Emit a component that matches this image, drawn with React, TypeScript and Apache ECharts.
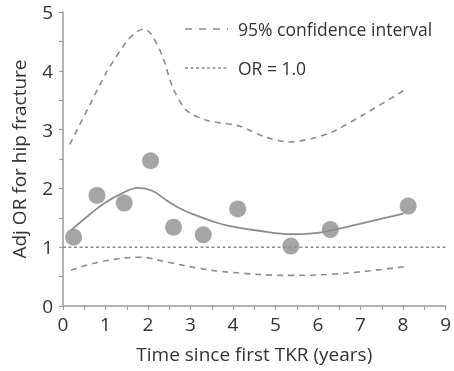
import React, { useEffect, useRef } from "react";
import * as echarts from "echarts";

const pointsX = [0.25, 0.8, 1.44, 2.06, 2.6, 3.3, 4.11, 5.36, 6.29, 8.12];
const pointsY = [1.17, 1.88, 1.75, 2.47, 1.34, 1.21, 1.65, 1.02, 1.3, 1.7];

const fitX = [0.19, 0.6, 1.0, 1.4, 1.76, 2.1, 2.43, 2.8, 3.21, 3.6, 3.99, 4.6, 5.36, 5.94, 6.33, 7.11, 8.01];
const fitY = [1.29, 1.54, 1.76, 1.92, 2.01, 1.96, 1.8, 1.64, 1.52, 1.42, 1.35, 1.28, 1.22, 1.24, 1.29, 1.42, 1.57];

const upperX = [0.16, 0.63, 1.02, 1.49, 1.73, 1.9, 2.08, 2.35, 2.58, 2.9, 3.37, 4.15, 4.77, 5.32, 5.86, 6.33, 7.11, 8.05];
const upperY = [2.75, 3.42, 3.97, 4.49, 4.66, 4.71, 4.62, 4.23, 3.72, 3.33, 3.16, 3.06, 2.87, 2.79, 2.85, 2.96, 3.27, 3.68];

const lowerX = [0.19, 0.87, 1.8, 2.43, 3.21, 3.99, 5.32, 6.33, 7.11, 8.05];
const lowerY = [0.61, 0.75, 0.83, 0.75, 0.64, 0.57, 0.52, 0.54, 0.59, 0.67];

const refX = [0, 9.15];
const refY = [1, 1];

const legendLabels = ["95% confidence interval", "OR = 1.0"];

const zip = (xs: number[], ys: number[]) => xs.map((x, i) => [x, ys[i]]);

const FONT = "'Open Sans', 'Noto Sans', sans-serif";
const TEXT = "#333333";
const AXIS = "#9a9a9a";
const LINE = "#8c8c8c";

export default function App() {
  const ref = useRef<HTMLDivElement>(null);
  useEffect(() => {
    if (!ref.current) return;
    document.body.style.margin = "0";
    const chart = echarts.init(ref.current, undefined, { renderer: "svg" });
    chart.setOption({
      animation: false,
      grid: { left: 63, right: 7, top: 12, bottom: 65, containLabel: false },
      xAxis: {
        type: "value",
        min: 0,
        max: 9,
        interval: 0.5,
        offset: 3,
        name: "Time since first TKR (years)",
        nameLocation: "middle",
        nameGap: 35,
        nameTextStyle: { fontFamily: FONT, fontSize: 19, color: TEXT },
        axisLine: { show: true, lineStyle: { color: AXIS, width: 1.5 } },
        axisTick: { show: true, length: 4, lineStyle: { color: AXIS, width: 1.2 } },
        axisLabel: {
          margin: 5,
          fontFamily: FONT,
          fontSize: 19,
          color: TEXT,
          showMinLabel: true,
          showMaxLabel: true,
          hideOverlap: false,
          formatter: (v: number) => (Number.isInteger(v) ? String(v) : ""),
        },
        splitLine: { show: false },
      },
      yAxis: {
        type: "value",
        min: 0,
        max: 5,
        interval: 0.5,
        offset: 1,
        name: "Adj OR for hip fracture",
        nameLocation: "middle",
        nameGap: 34,
        nameTextStyle: { fontFamily: FONT, fontSize: 19, color: TEXT },
        axisLine: { show: true, lineStyle: { color: AXIS, width: 1.5 } },
        axisTick: { show: true, length: 4, lineStyle: { color: AXIS, width: 1.2 } },
        axisLabel: {
          margin: 9,
          fontFamily: FONT,
          fontSize: 19,
          color: TEXT,
          showMinLabel: true,
          showMaxLabel: true,
          hideOverlap: false,
          formatter: (v: number) => (Number.isInteger(v) ? String(v) : ""),
        },
        splitLine: { show: false },
      },
      graphic: [
        {
          type: "line",
          shape: { x1: 185, y1: 29, x2: 228, y2: 29 },
          style: { stroke: LINE, lineWidth: 1.6, lineDash: [7, 7] },
        },
        {
          type: "text",
          x: 238,
          y: 29,
          style: {
            text: legendLabels[0],
            fontFamily: FONT,
            fontSize: 17.5,
            fill: TEXT,
            verticalAlign: "middle",
          },
        },
        {
          type: "line",
          shape: { x1: 185, y1: 68, x2: 228, y2: 68 },
          style: { stroke: LINE, lineWidth: 1.5, lineDash: [3, 2.5] },
        },
        {
          type: "text",
          x: 238,
          y: 68,
          style: {
            text: legendLabels[1],
            fontFamily: FONT,
            fontSize: 17.5,
            fill: TEXT,
            verticalAlign: "middle",
          },
        },
      ],
      series: [
        {
          type: "line",
          data: zip(refX, refY),
          showSymbol: false,
          clip: false,
          lineStyle: { color: LINE, width: 1.5, type: [3, 2.5] },
        },
        {
          type: "line",
          data: zip(upperX, upperY),
          showSymbol: false,
          smooth: 0.3,
          lineStyle: { color: LINE, width: 1.6, type: [6, 5] },
        },
        {
          type: "line",
          data: zip(lowerX, lowerY),
          showSymbol: false,
          smooth: 0.4,
          lineStyle: { color: LINE, width: 1.6, type: [6, 5] },
        },
        {
          type: "line",
          data: zip(fitX, fitY),
          showSymbol: false,
          smooth: 0.4,
          lineStyle: { color: LINE, width: 1.8 },
        },
        {
          type: "scatter",
          data: zip(pointsX, pointsY),
          symbolSize: 17,
          itemStyle: { color: "#8e8e8e" },
          z: 5,
        },
      ],
    });
    return () => chart.dispose();
  }, []);
  return (
    <div
      ref={ref}
      style={{ position: "fixed", left: 0, top: 0, width: 454, height: 371 }}
    />
  );
}
